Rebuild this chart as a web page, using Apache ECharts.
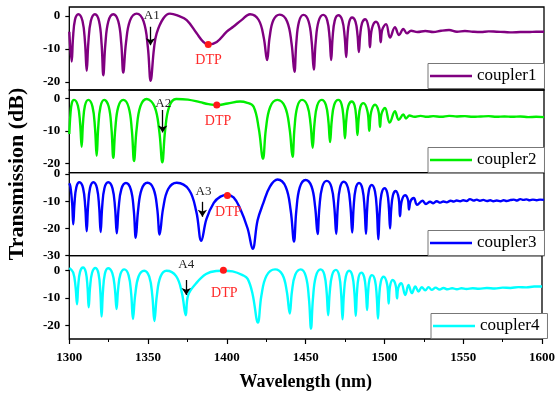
<!DOCTYPE html>
<html><head><meta charset="utf-8">
<script src="https://cdn.jsdelivr.net/npm/echarts@6/dist/echarts.min.js"></script>
<style>html,body{margin:0;padding:0;background:#fff}#c{width:558px;height:394px}</style>
</head><body><div id="c"></div>
<script>
// ---- data (wavelength nm, transmission dB) ----
const seriesNames = ['coupler1','coupler2','coupler3','coupler4'];
const xTickLabels = [1300,1350,1400,1450,1500,1550,1600];
const yTickValues = [[-20,-10,0],[-20,-10,0],[-30,-20,-10,0],[-20,-10,0]];
const yRanges = [[-22.5,2.7],[-22.9,2.55],[-30,0.5],[-25,5.5]];

const coupler1 = [
[1300,-4.8],[1301.5,-13.9],[1302.34,-6.7],[1303.6,-1.2],[1305.7,0.5],
[1308.35,-1.57],[1309.94,-8.1],[1311.0,-16.7],[1312.04,-8.1],[1313.6,-1.57],[1316.2,0.5],
[1318.85,-1.72],[1320.44,-8.75],[1321.5,-18],[1322.76,-8.75],[1324.65,-1.72],[1327.8,0.5],
[1330.95,-1.63],[1332.84,-8.35],[1334.1,-17.2],[1335.8,-8.25],[1338.35,-1.45],[1342.6,0.7],
[1347.0,-1.75],[1349.64,-9.5],[1351.4,-19.7],[1353.5,-10],[1355.2,-5.3],[1359.4,-0.8],[1363.6,0.7],
[1369,0],[1374.2,-1.3],[1380.5,-5.3],[1384.7,-7.9],[1387.8,-8.7],[1393.2,-7.9],[1399.5,-4.8],[1403.6,-3.3],[1409,-1.2],[1414.2,0.5],
[1419.6,-1.17],[1422.84,-6.45],[1425,-13.4],[1426.6,-6.5],[1429,-1.25],[1433,0.4],
[1437.65,-1.69],[1440.44,-8.3],[1442.3,-17],[1443.44,-8.35],[1445.15,-1.77],[1448,0.3],
[1451.25,-1.7],[1453.2,-8.0],[1454.5,-16.3],[1455.7,-8.0],[1457.5,-1.7],[1460.5,0.3],
[1463,-1.35],[1464.5,-6.55],[1465.5,-13.4],[1466.4,-6.6],[1467.75,-1.43],[1470,0.2],
[1472.5,-1.33],[1474,-6.15],[1475,-12.5],[1475.74,-6.5],[1476.85,-1.94],[1478.7,-0.5],
[1480.85,-1.76],[1482.14,-5.75],[1483,-11],[1483.8,-6.0],[1485,-2.2],[1487,-1],
[1489.1,-3.55],[1490,-9.5],[1491.14,-4.1],[1493.8,-1.8],
[1495.9,-3.66],[1496.8,-8],[1497.8,-4.15],[1500.2,-2.5],
[1502.7,-6.6],[1505.8,-3.4],[1508.4,-5.8],[1511.1,-4.0],[1513.4,-5.3],[1516,-4.5],
[1520,-4.9],[1525,-4.6],[1530,-4.9],[1535,-4.5],[1540,-4.3],[1545,-4.8],[1550,-4.6],[1555,-4.8],[1560,-4.9],[1565,-4.7],[1570,-4.8],[1575,-4.9],[1580,-5.0],[1585,-4.9],[1590,-4.9],[1595,-4.8],[1600,-4.8]
];

const coupler2 = [
[1300,-11],[1300.7,-5],[1301.6,-1.5],[1303,-0.5],
[1305.4,-2.23],[1306.84,-7.7],[1307.8,-14.9],[1308.64,-7.7],[1309.9,-2.23],[1312,-0.5],
[1314.65,-2.57],[1316.24,-9.1],[1317.3,-17.7],[1318.26,-9.1],[1319.7,-2.57],[1322.1,-0.5],
[1324.95,-2.63],[1326.66,-9.4],[1327.8,-18.3],[1329.06,-9.4],[1330.95,-2.63],[1334.1,-0.5],
[1337.5,-2.75],[1339.54,-9.9],[1340.9,-19.3],[1342.5,-9.75],[1344.9,-2.49],[1348.9,-0.2],
[1353.85,-2.54],[1356.82,-9.95],[1358.8,-19.7],[1360.54,-9.95],[1363.15,-2.54],[1367.5,-0.2],
[1375,-0.4],[1382.6,-1.2],[1388,-1.8],[1393.2,-2.1],[1400,-1.6],[1407.9,-1.0],[1412,-1.3],
[1416.5,-2.6],[1419.8,-9.5],[1422.4,-18.6],[1424.22,-9.55],[1426.95,-2.67],[1431.5,-0.5],
[1436.3,-2.6],[1439.18,-9.25],[1441.1,-18],[1442.3,-9.25],[1444.1,-2.6],[1447.1,-0.5],
[1450.45,-2.27],[1452.46,-7.85],[1453.8,-15.2],[1454.94,-7.85],[1456.65,-2.27],[1459.5,-0.5],
[1462.15,-2.06],[1463.74,-7.0],[1464.8,-13.5],[1465.84,-7.0],[1467.4,-2.06],[1470,-0.5],
[1472.1,-1.91],[1473.36,-6.4],[1474.2,-12.3],[1475.06,-6.65],[1476.35,-2.35],[1478.5,-1],
[1480.3,-2.23],[1481.38,-6.15],[1482.1,-11.3],[1482.84,-6.4],[1483.95,-2.67],[1485.8,-1.5],
[1488.46,-4.05],[1489.6,-10],[1490.68,-4.4],[1493.2,-2],
[1495.44,-4.04],[1496.4,-8.8],[1497.33,-4.74],[1499.5,-3],
[1502.5,-7.5],[1505.8,-4],[1508.2,-6.6],[1511.1,-5],[1512.8,-6.2],[1515,-5.3],
[1518,-5.7],[1522,-5.4],[1526,-5.7],[1530,-5.5],[1535,-5.7],[1540,-5.4],[1545,-5.6],[1550,-5.5],[1555,-5.7],[1560,-5.6],[1565,-5.5],[1570,-5.7],[1575,-5.6],[1580,-5.7],[1585,-5.6],[1590,-5.8],[1595,-5.7],[1600,-5.8]
];

const coupler3 = [
[1300,-3.4],[1300.75,-4.8],[1301.8,-10.7],[1302.5,-18.5],[1303.28,-10.75],[1304.45,-4.86],[1306.4,-3],
[1308.7,-5.16],[1310.08,-12.0],[1311,-21],[1311.84,-12.0],[1313.1,-5.16],[1315.2,-3],
[1317.5,-5.19],[1318.88,-12.15],[1319.8,-21.3],[1320.76,-12.15],[1322.2,-5.19],[1324.6,-3],
[1327.3,-5.25],[1328.92,-12.4],[1330,-21.8],[1331.16,-12.55],[1332.9,-5.52],[1335.8,-3.3],
[1338.9,-5.71],[1340.76,-13.35],[1342,-23.4],[1343.48,-13.3],[1345.7,-5.63],[1349.4,-3.2],
[1353.25,-5.48],[1355.56,-12.7],[1357.1,-22.2],[1359.26,-12.7],[1362.5,-5.48],[1367.9,-3.2],
[1375.65,-5.8],[1380.3,-13.9],[1383.4,-24.5],[1386.7,-16.5],[1391.3,-10.6],[1395.5,-8.3],[1399.7,-7.7],
[1403.8,-8.6],[1407.8,-12.5],[1412.7,-20],[1415.9,-27.5],[1419,-17],[1422.6,-10.7],[1426.8,-4.6],[1431.6,-2],
[1436.8,-4.73],[1439.92,-13.4],[1442,-24.8],[1443.46,-13.5],[1445.65,-4.91],[1449.3,-2.2],
[1453.1,-4.57],[1455.38,-12.1],[1456.9,-22],[1458.06,-12.25],[1459.8,-4.84],[1462.7,-2.5],
[1465.7,-4.84],[1467.5,-12.25],[1468.7,-22],[1469.64,-12.4],[1471.05,-5.11],[1473.4,-2.8],
[1476.1,-5.05],[1477.72,-12.15],[1478.8,-21.5],[1479.66,-12.4],[1480.95,-5.49],[1483.1,-3.3],
[1485.3,-5.55],[1486.62,-12.65],[1487.5,-22],[1488.22,-13.0],[1489.3,-6.16],[1491.1,-4],
[1493.2,-6.4],[1494.46,-14.0],[1495.3,-24],[1496.08,-14.6],[1497.25,-7.45],[1499.2,-5.2],
[1500.95,-6.97],[1502.0,-12.6],[1502.7,-20],[1503.42,-13.1],[1504.5,-7.85],[1506.3,-6.2],
[1508.2,-9.0],[1509,-15.5],[1510,-10.1],[1512.2,-7.8],
[1514,-9.36],[1514.7,-13],[1515.6,-10.06],[1517.7,-8.8],
[1519.8,-11.3],[1523.2,-9.8],[1525.4,-11],[1528,-10.2],[1530,-10.7],[1532.2,-10],[1534.5,-10.5],[1536.4,-10.1],[1538.5,-10.4],[1541,-9.8],[1543,-10.1],[1544.8,-9.7],[1547,-10],[1549,-9.6],[1551,-9.9],[1553.2,-9.2],[1555.5,-9.7],[1557.5,-9.4],[1559.5,-9.8],[1561.6,-9.5],[1564,-9.9],[1566,-9.6],[1568,-10],[1570.1,-9.7],[1572.5,-10],[1574.5,-9.6],[1576.5,-9.9],[1578.5,-9.6],[1581,-9.4],[1583,-9.7],[1585,-9.2],[1587,-9.5],[1589,-9.3],[1591,-9.6],[1593,-9.4],[1595.4,-9.6],[1597.5,-9.4],[1600,-9.5]
];

const coupler4 = [
[1300,1],[1302.45,-0.6],[1303.92,-5.65],[1304.9,-12.3],[1305.66,-5.55],[1306.8,-0.42],[1308.7,1.2],
[1310.5,-0.55],[1311.58,-6.1],[1312.3,-13.4],[1313.16,-6.2],[1314.45,-0.73],[1316.6,1],
[1318.55,-1.13],[1319.72,-7.9],[1320.5,-16.8],[1321.32,-7.95],[1322.55,-1.23],[1324.6,0.9],
[1327.3,-0.89],[1328.92,-6.55],[1330,-14],[1330.98,-6.75],[1332.45,-1.24],[1334.9,0.5],
[1337.65,-1.69],[1339.3,-8.6],[1340.4,-17.7],[1341.82,-8.85],[1343.95,-2.13],[1347.5,0],
[1350.75,-2.2],[1352.7,-9.2],[1354,-18.4],[1355.54,-9.2],[1357.85,-2.2],[1361.7,0],
[1367.8,-2],[1371.46,-8.1],[1373.9,-16.3],[1375.4,-9],[1380.5,-4.6],[1386.8,-1.2],[1393.2,-0.1],[1397.8,0],[1403.6,-0.25],[1410,-1.6],[1413.2,-3],[1416.3,-8.5],[1419.7,-19],
[1421.88,-9.25],[1425.15,-1.84],[1430.6,0.5],
[1435.25,-1.45],[1438.04,-7.6],[1439.9,-15.7],[1441.3,-7.6],[1443.4,-1.45],[1446.9,0.5],
[1450.15,-2.11],[1452.1,-10.35],[1453.4,-21.2],[1454.62,-10.35],[1456.45,-2.11],[1459.5,0.5],
[1461.9,-1.51],[1463.34,-7.9],[1464.3,-16.3],[1465.28,-8.0],[1466.75,-1.69],[1469.2,0.3],
[1471.3,-1.87],[1472.56,-8.75],[1473.4,-17.8],[1474.24,-8.9],[1475.5,-2.13],[1477.6,0],
[1479.7,-1.98],[1480.96,-8.25],[1481.8,-16.5],[1482.5,-8.6],[1483.55,-2.59],[1485.3,-0.7],
[1487.15,-2.35],[1488.26,-7.55],[1489,-14.4],[1489.62,-8.0],[1490.55,-3.13],[1492.1,-1.6],
[1494,-3.5],[1495.14,-9.55],[1495.9,-17.5],[1496.62,-9.85],[1497.7,-4.03],[1499.5,-2.2],
[1501.75,-5.14],[1502.7,-12],[1503.45,-5.98],[1505.2,-3.4],
[1507.15,-5.4],[1508,-10.1],[1508.8,-6.25],[1510.7,-4.6],
[1513.2,-8.9],[1515.3,-5.2],[1517.4,-8.2],[1519.6,-5.8],[1521.6,-7.6],[1523.7,-6],[1525.9,-7.2],
[1528,-6.0],[1530,-7.0],[1532.5,-6.2],[1535,-6.9],[1537.5,-6.3],[1540,-6.8],[1543,-6.4],[1546,-6.8],[1549,-6.4],[1552,-6.7],[1556,-6.4],[1560,-6.6],[1565,-6.3],[1570,-6.5],[1575,-6.2],[1580,-6.3],[1585,-6.0],[1590,-6.1],[1595,-5.8],[1600,-5.8]
];

// annotations (data coordinates)
const dtpPoints = [[1387.8,-8.7],[1393.2,-2.05],[1399.9,-7.9],[1397.8,0.2]];
const dtpLabelAt = [[1388,-13.4],[1394,-7],[1400.5,-13.9],[1398.4,-8.1]];
const arrowX = [1351.3,1359,1384.1,1374.2];
const arrowFrom = [-3.3,-3.6,-10.2,-3.4];
const arrowTo = [-8.9,-10.5,-15.7,-8.9];
const arrowNames = ['A1','A2','A3','A4'];
const arrowNameAt = [[1352.1,0.2],[1359.4,-1.5],[1384.8,-6.5],[1374.2,2.1]];

// ---- styling / layout ----
const allData = [coupler1, coupler2, coupler3, coupler4];
const colors = ['#800080','#00ee00','#0000ff','#00ffff'];
const FONT = "'Liberation Serif','Times New Roman',serif";
const gridTop = [7, 90, 172.7, 255.7];
const gridH = [83, 82.7, 83, 83.3];
const legendPos = [[428,63.5],[428,147.5],[428,230.5],[431,313.5]];

const chart = echarts.init(document.getElementById('c'), null, {renderer:'canvas'});

const grids = gridTop.map((t,i)=>({left:69.3, right:14, top:t, height:gridH[i], show:true, borderColor:'#000', borderWidth:1.3, backgroundColor:'transparent'}));

const xAxes = gridTop.map((t,i)=>{
  const base = {type:'value', gridIndex:i, min:1300, max:1600, interval:50, position:'bottom',
    splitLine:{show:false}, axisLine:{show:false, onZero:false}};
  if (i < 3) return Object.assign(base, {axisTick:{show:false}, minorTick:{show:false}, axisLabel:{show:false}});
  return Object.assign(base, {
    axisTick:{show:true, inside:false, length:5, lineStyle:{color:'#000', width:1.2}},
    minorTick:{show:true, splitNumber:2, length:3, lineStyle:{color:'#000', width:1}},
    axisLabel:{color:'#000', fontWeight:'bold', fontSize:13, fontFamily:FONT, margin:12,
      formatter:v => xTickLabels.indexOf(v) >= 0 ? String(v) : ''},
    name:'Wavelength (nm)', nameLocation:'middle', nameGap:34,
    nameTextStyle:{color:'#000', fontWeight:'bold', fontSize:18, fontFamily:FONT}
  });
});

const yAxes = yRanges.map((r,i)=>({
  type:'value', gridIndex:i, min:r[0], max:r[1],
  splitLine:{show:false}, axisLine:{show:false, onZero:false},
  axisTick:{show:true, inside:false, length:4, lineStyle:{color:'#000', width:1.2}, customValues:yTickValues[i]},
  axisLabel:{color:'#000', fontWeight:'bold', fontSize:13, fontFamily:FONT, margin:9, customValues:yTickValues[i]}
}));

const series = allData.map((d,i)=>({
  type:'line', name:seriesNames[i], xAxisIndex:i, yAxisIndex:i, data:d,
  symbol:'none', showSymbol:false, smooth:0.4,
  lineStyle:{color:colors[i], width:2.4}, itemStyle:{color:colors[i]},
  animation:false, z:3,
  markPoint:{
    silent:true, animation:false,
    data:[
      {coord:dtpPoints[i], symbol:'circle', symbolSize:7, itemStyle:{color:'#ff1a1a'}, label:{show:false}},
      {coord:dtpLabelAt[i], symbol:'rect', symbolSize:1, itemStyle:{color:'rgba(0,0,0,0)'},
        label:{show:true, position:'inside', formatter:'DTP', color:'#ff2a2a', fontSize:14, fontFamily:FONT}},
      {coord:arrowNameAt[i], symbol:'rect', symbolSize:1, itemStyle:{color:'rgba(0,0,0,0)'},
        label:{show:true, position:'inside', formatter:arrowNames[i], color:'#222', fontSize:13, fontFamily:FONT}}
    ]
  },
  markLine:{
    silent:true, animation:false, symbol:['none','arrow'], symbolSize:7,
    lineStyle:{color:'#000', width:1.3, type:'solid'}, label:{show:false},
    data:[[{coord:[arrowX[i], arrowFrom[i]]},{coord:[arrowX[i], arrowTo[i]]}]]
  }
}));

const legends = seriesNames.map((n,i)=>({
  data:[n], left:legendPos[i][0], top:legendPos[i][1], orient:'horizontal',
  icon:'rect', itemWidth:42, itemHeight:2.6, itemGap:0, padding:[4,8,4,2],
  borderColor:'#777', borderWidth:1, backgroundColor:'#fff',
  selectedMode:false,
  textStyle:{color:'#000', fontSize:17, fontFamily:FONT}
}));

chart.setOption({
  animation:false,
  backgroundColor:'#fff',
  grid:grids, xAxis:xAxes, yAxis:yAxes, series:series, legend:legends,
  graphic:[{type:'text', x:17, y:174, rotation:Math.PI/2,
    style:{text:'Transmission (dB)', font:"bold 22px 'Liberation Serif'", fill:'#000',
      align:'center', verticalAlign:'middle', textAlign:'center', textVerticalAlign:'middle'}}]
});
</script>
</body></html>
